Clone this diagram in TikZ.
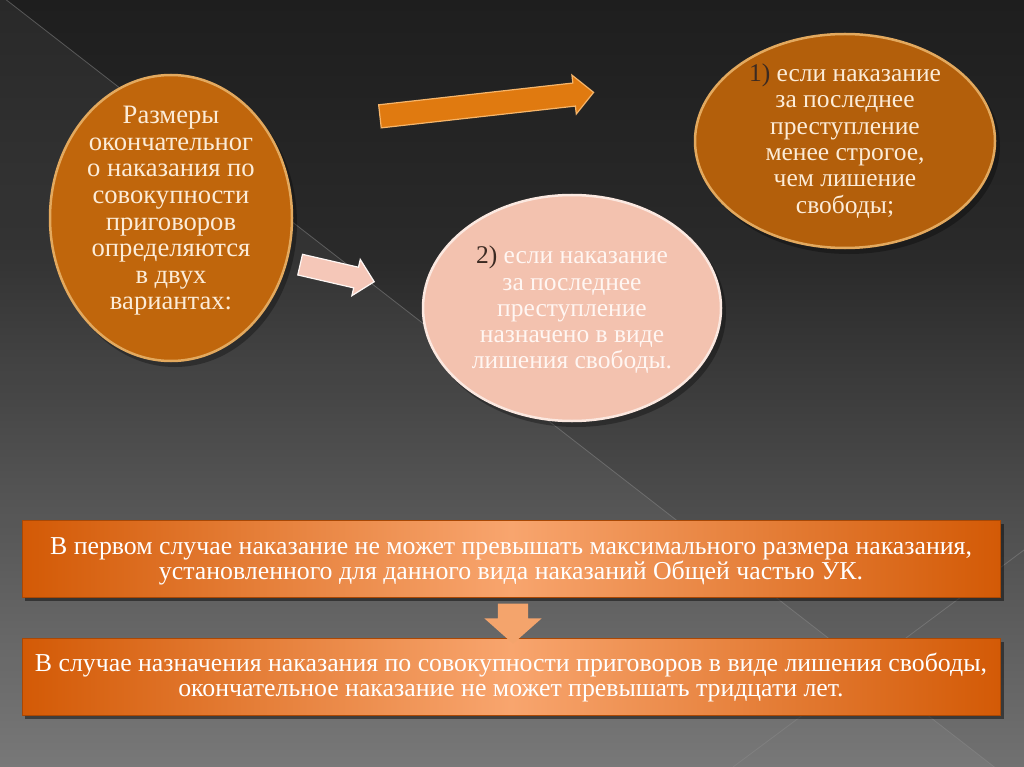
\documentclass[tikz,border=0pt]{standalone}
\usepackage{fontspec}
\setmainfont{Liberation Serif}
\usetikzlibrary{shapes.geometric,shapes.arrows}
\definecolor{bgtop}{HTML}{1E1E1E}
\definecolor{bgmid}{HTML}{2A2A2A}
\definecolor{bgbot}{HTML}{717171}
\definecolor{ellor}{HTML}{C0660C}
\definecolor{rimgold}{HTML}{E3A95E}
\definecolor{pinkf}{HTML}{F3C2AF}
\definecolor{pinkrim}{HTML}{FBE8E0}
\definecolor{cream}{HTML}{FCECD8}
\definecolor{pinktext}{HTML}{FFF6F2}
\definecolor{darknum}{HTML}{3B2A22}
\definecolor{arrowor}{HTML}{E07A10}
\definecolor{arrowrim}{HTML}{F6B56A}
\definecolor{pinkarrow}{HTML}{F5C7B8}
\definecolor{boxdark}{HTML}{D35A06}
\definecolor{boxlight}{HTML}{F8A56E}
\definecolor{downar}{HTML}{F4A46C}
\definecolor{linegray}{HTML}{8A8A8A}
\tikzset{
  oval/.style={ellipse, inner sep=0pt, line width=2.5pt},
  ovaltext/.style={align=center, inner sep=0pt, font=\fontsize{25.5}{26.3}\selectfont},
  blockarrow/.style={single arrow, inner xsep=0pt, single arrow head indent=0pt, line width=1.2pt},
  boxnode/.style={rectangle, minimum width=978, minimum height=77, inner sep=0pt,
    left color=boxdark, right color=boxdark, middle color=boxlight, draw=boxdark!80!black, line width=0.6pt},
  boxtext/.style={align=center, inner sep=0pt, text=white, font=\fontsize{25.8}{25.2}\selectfont},
  deco/.style={draw=linegray, line width=0.8pt, opacity=0.5}
}
\begin{document}
\begin{tikzpicture}[x=1pt,y=-1pt]
\useasboundingbox (0,0) rectangle (1024,767);
% background
\shade[top color=bgtop, bottom color=bgmid] (0,0) rectangle (1024,260.5);
\shade[top color=bgmid, bottom color=bgbot] (0,260) rectangle (1024,767);
\fill[white, opacity=0.05] (0,-5) -- (1024,790) -- (0,790) -- cycle;
\coordinate (d1a) at (0,-5);
\coordinate (d1b) at (1024,790);
\coordinate (d2a) at (733,767);
\coordinate (d2b) at (1024,550);
\draw[deco] (d1a) -- (d1b);
\draw[deco] (d2a) -- (d2b);

% shadows of ovals
\fill[black, opacity=0.3] (175,223) ellipse [x radius=122, y radius=144];
\fill[black, opacity=0.3] (849,146) ellipse [x radius=151, y radius=108];
\fill[black, opacity=0.3] (576,313) ellipse [x radius=150, y radius=114];

% ovals
\node[oval, fill=ellor, draw=rimgold, minimum width=242, minimum height=286] (e1) at (171,218) {};
\node[oval, fill=ellor!93!black, draw=rimgold, minimum width=300, minimum height=214] (e2) at (845,141) {};
\node[oval, fill=pinkf, draw=pinkrim, minimum width=298, minimum height=226] (e3) at (572,308) {};

\node[ovaltext, text=cream, font=\fontsize{26.6}{26.6}\selectfont] (t1) at (e1.center) [yshift=7pt] {Размеры\\окончательног\\о наказания по\\совокупности\\приговоров\\определяются\\в двух\\вариантах:};
\node[ovaltext, text=cream] (t2) at (e2.center) {\textcolor{darknum}{1)} если наказание\\за последнее\\преступление\\менее строгое,\\чем лишение\\свободы;};
\node[ovaltext, text=pinktext] (t3) at (e3.center) [yshift=-2pt] {\textcolor{darknum}{2)} если наказание\\за последнее\\преступление\\назначено в виде\\лишения свободы.};

% block arrows
\node[blockarrow, fill=arrowor, draw=arrowrim, inner ysep=11pt, single arrow head extend=8pt, minimum height=215, rotate=6.4] (a1) at (481,105) {};
\node[blockarrow, fill=pinkarrow, draw=white!85!pinkarrow, inner ysep=10pt, single arrow head extend=8pt, minimum height=76, rotate=-13] (a2) at (332,272) {};

% boxes
\fill[black, opacity=0.45] (25,524) rectangle (1004,601);
\fill[black, opacity=0.45] (25,642) rectangle (1004,719);
\node[boxnode] (b1) at (511,558.5) {};
\node[boxnode] (b2) at (511,676.5) {};
\node[boxtext] (bt1) at (b1.center) [yshift=-3pt] {В первом случае наказание не может превышать максимального размера наказания,\\установленного для данного вида наказаний Общей частью УК.};
\node[boxtext] (bt2) at (b2.center) [yshift=-1pt] {В случае назначения наказания по совокупности приговоров в виде лишения свободы,\\окончательное наказание не может превышать тридцати лет.};

\node[single arrow, inner xsep=0pt, inner ysep=15pt, single arrow head extend=13.5pt, single arrow head indent=0pt, single arrow tip angle=97, minimum height=40, rotate=-90, fill=downar] (a3) at (513,617) {};
\end{tikzpicture}
\end{document}
